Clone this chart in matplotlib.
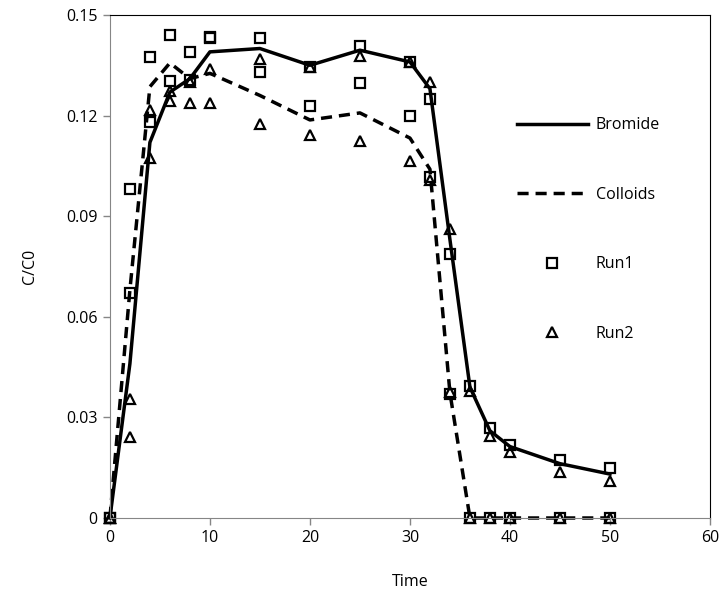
import numpy as np
import matplotlib.pyplot as plt

# time points (min)
time = [0, 2, 4, 6, 8, 10, 15, 20, 25, 30, 32, 34, 36, 38, 40, 45, 50]

# model curves
bromide = [0, 0.046, 0.112, 0.127, 0.131, 0.139, 0.140, 0.135, 0.1395, 0.136,
           0.128, 0.083, 0.039, 0.026, 0.0213, 0.0162, 0.0131]
colloids = [0, 0.068, 0.1286, 0.1357, 0.131, 0.1326, 0.126, 0.1187, 0.1208, 0.1133,
            0.104, 0.0373, 0, 0, 0, 0, 0]

# measured data, two runs (bromide and colloid samples)
run1_bromide = [0, 0.067, 0.118, 0.1304, 0.1306, 0.1434, 0.1432, 0.1346, 0.1408, 0.1361,
                0.125, 0.0787, 0.0394, 0.0269, 0.0218, 0.0173, 0.0148]
run1_colloids = [0, 0.098, 0.1376, 0.144, 0.1389, 0.143, 0.1331, 0.1229, 0.1296, 0.1199,
                 0.1018, 0.037, 0, 0, 0, 0, 0]
run2_bromide = [0, 0.0241, 0.1073, 0.1242, 0.1300, 0.1339, 0.1368, 0.1346, 0.1379, 0.1361,
                0.130, 0.0862, 0.038, 0.0245, 0.0197, 0.0138, 0.0111]
run2_colloids = [0, 0.0355, 0.1217, 0.1274, 0.1237, 0.1237, 0.1175, 0.1142, 0.1125, 0.1066,
                 0.1008, 0.0375, 0, 0, 0, 0, 0]

plt.rcParams['font.family'] = ['Open Sans', 'DejaVu Sans']

fig = plt.figure(figsize=(7.23, 6.04), dpi=100)
ax = fig.add_axes([0.152, 0.1424, 0.830, 0.8328])

ax.plot(time, bromide, color='black', lw=2.5, label='Bromide', clip_on=False)
ax.plot(time, colloids, color='black', lw=2.5, ls=(0, (3.2, 2)), label='Colloids',
        clip_on=False)

sq = dict(ls='none', marker='s', ms=7, mfc='none', mec='black', mew=1.6, clip_on=False)
tri = dict(ls='none', marker='^', ms=6.5, mfc='none', mec='black', mew=1.6, clip_on=False)
ax.plot(time, run1_bromide, label='Run1', **sq)
ax.plot(time, run1_colloids, **sq)
ax.plot(time, run2_bromide, label='Run2', **tri)
ax.plot(time, run2_colloids, **tri)

ax.set_xlim(0, 60)
ax.set_ylim(0, 0.15)
ax.set_xticks(range(0, 61, 10))
ax.set_yticks([0, 0.03, 0.06, 0.09, 0.12, 0.15])
ax.set_yticklabels(['0', '0.03', '0.06', '0.09', '0.12', '0.15'])
ax.tick_params(direction='out', length=5, width=1, color='#868686',
               labelsize=11.5, pad=4)
for s in ['left', 'bottom']:
    ax.spines[s].set_color('#868686')
for s in ['top', 'right']:
    ax.spines[s].set_color('black')
ax.set_xlabel('Time', fontsize=11.5, labelpad=20)
ax.set_ylabel('C/C0', fontsize=11.5, labelpad=20)

leg = ax.legend(loc='upper left', bbox_to_anchor=(0.655, 0.825), frameon=False,
                fontsize=11.5, handlelength=4.4, labelspacing=3.35, handletextpad=0.5)

fig.savefig('out.png', dpi=100)
